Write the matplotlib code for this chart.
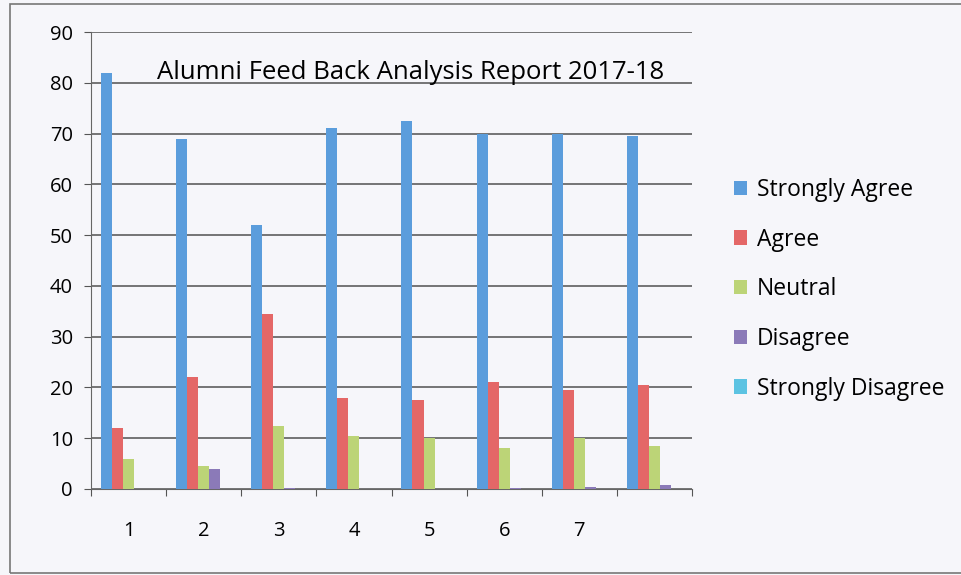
import matplotlib.pyplot as plt
import numpy as np
from matplotlib.patches import Rectangle

groups = ['1', '2', '3', '4', '5', '6', '7', '']
series = ['Strongly Agree', 'Agree', 'Neutral', 'Disagree', 'Strongly Disagree']
strongly_agree = [82, 69, 52, 71, 72.5, 70, 70, 69.5]
agree = [12, 22, 34.5, 18, 17.5, 21, 19.5, 20.5]
neutral = [6, 4.5, 12.5, 10.5, 10, 8, 10, 8.5]
disagree = [0, 4, 0.2, 0, 0, 0.2, 0.3, 0.7]
strongly_disagree = [0, 0, 0, 0, 0, 0, 0, 0]
colors = ['#5b9ddc', '#e46767', '#bcd477', '#8b7ab8', '#5cc3e2']

plt.rcParams['font.family'] = ['Open Sans', 'DejaVu Sans']
bg = '#f6f6fa'

fig = plt.figure(figsize=(9.61, 5.75), dpi=100, facecolor=bg)
ax = fig.add_axes([91/961, 1 - 489/575, (692-91)/961, (489-32)/575])
ax.set_facecolor(bg)

x = np.arange(len(groups))
w = 0.147
data = [strongly_agree, agree, neutral, disagree, strongly_disagree]
for i, (name, vals) in enumerate(zip(series, data)):
    ax.bar(x + (i - 2) * w, vals, w, color=colors[i], label=name, zorder=3)

ax.set_xlim(-0.5, len(groups) - 0.5)
ax.set_ylim(0, 90)
ax.set_yticks(range(0, 91, 10))
ax.yaxis.grid(True, color='#5e5e5e', linewidth=1.2, zorder=0)
ax.set_xticks(np.arange(-0.5, len(groups), 1))
ax.set_xticklabels([])
ax.set_xticks(x, minor=True)
ax.set_xticklabels(groups, minor=True)
ax.tick_params(axis='x', which='minor', length=0, pad=23, labelsize=14.5)
ax.tick_params(axis='x', which='major', length=5, color='#555555')
ax.tick_params(axis='y', length=5, color='#555555', labelsize=14.5, pad=8)
for s in ['top', 'right']:
    ax.spines[s].set_visible(False)
ax.spines['left'].set_color('#666666')
ax.spines['bottom'].set_color('#666666')

ax.text(0.532, 0.897, 'Alumni Feed Back Analysis Report 2017-18', transform=ax.transAxes,
        ha='center', va='baseline', fontsize=18.5, zorder=4)

ax.legend(loc='center left', bbox_to_anchor=(1.035, 0.437), frameon=False, fontsize=16.5,
          handlelength=0.6, handleheight=0.6, handletextpad=0.4, labelspacing=1.12)

fig.patches.append(Rectangle((10/961, 2/575), 1.2, 1 - 6/575, transform=fig.transFigure,
                             fill=False, edgecolor='#777777', linewidth=1.2))

fig.savefig('out.png', dpi=100, facecolor=bg)
